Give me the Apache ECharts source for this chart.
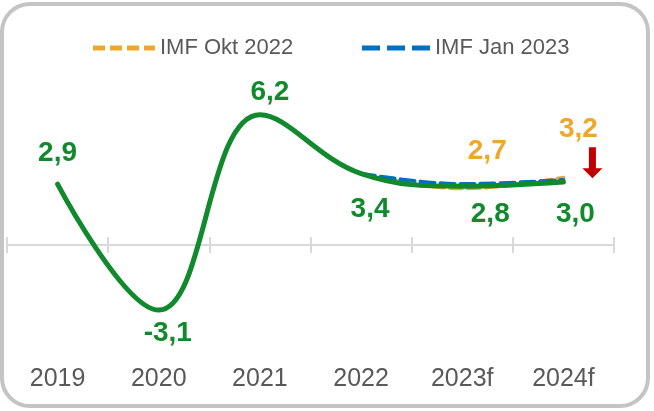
<!DOCTYPE html>
<html>
<head>
    <meta charset="utf-8" />
    <title>IMF growth forecast</title>
    <script src="https://cdn.jsdelivr.net/npm/echarts@6/dist/echarts.min.js"></script>
    <style type="text/css">
        html,
        body {
            width: 100%;
            height: 100%;
            margin: 0;
            background: #ffffff;
        }

        #frame {
            position: absolute;
            left: 0;
            top: 2px;
            width: 650px;
            height: 406px;
            box-sizing: border-box;
            border: 4px solid #c4c4c4;
            border-radius: 30px;
        }

        #main {
            position: absolute;
            left: 0;
            top: 0;
            width: 654px;
            height: 411px;
        }
    </style>
</head>
<body>
    <div id="frame"></div>
    <div id="main"></div>
    <script>
        var categories = ['2019', '2020', '2021', '2022', '2023f', '2024f'];
        var actual = [2.9, -3.1, 6.2, 3.4, 2.8, 3.0];
        var imfOkt2022 = [null, null, null, 3.4, 2.7, 3.2];
        var imfJan2023 = [null, null, null, 3.4, 2.9, 3.1];

        var green = '#108a2c';
        var orange = '#eea72b';
        var blue = '#0070c0';
        var font = "'Liberation Sans', Arial, sans-serif";

        // label placement per point (style only)
        var greenLabelPos = [
            { position: 'top', offset: [0, -12] },
            { position: 'bottom', offset: [9, 4] },
            { position: 'top', offset: [10, -4] },
            { position: 'bottom', offset: [9, 17] },
            { position: 'bottom', offset: [28, 9] },
            { position: 'bottom', offset: [12, 13] }
        ];
        var orangeLabelPos = [null, null, null, null,
            { position: 'top', offset: [25, -18] },
            { position: 'top', offset: [15, -30] }
        ];

        function fmt(v) {
            return v.toFixed(1).replace('.', ',');
        }

        function withLabels(values, pos, color) {
            return values.map(function (v, i) {
                if (v === null) return null;
                var item = { value: v };
                if (pos[i]) {
                    item.label = {
                        show: true,
                        position: pos[i].position,
                        offset: pos[i].offset,
                        color: color,
                        fontFamily: font,
                        fontWeight: 'bold',
                        fontSize: 28,
                        formatter: function (p) { return fmt(p.value); }
                    };
                }
                return item;
            });
        }

        var orangeIcon = 'path://M0,0 h12 v5 h-12z M17,0 h12 v5 h-12z M34,0 h12 v5 h-12z M51,0 h11 v5 h-11z';
        var blueIcon = 'path://M0,0 h18 v5 h-18z M25,0 h18 v5 h-18z M50,0 h18 v5 h-18z';

        var chart = echarts.init(document.getElementById('main'), null, { renderer: 'canvas' });

        var legendText = { fontFamily: font, fontSize: 22, color: '#595959' };

        var option = {
            animation: false,
            backgroundColor: 'transparent',
            grid: [
                { left: 7, right: 40, top: 77, bottom: 61, outerBoundsMode: 'none' },
                { left: 7, right: 40, top: 77, bottom: 61, outerBoundsMode: 'none' }
            ],
            legend: [{
                left: 88,
                top: 32,
                itemWidth: 62,
                itemHeight: 5,
                data: [{ name: 'IMF Okt 2022', icon: orangeIcon }],
                textStyle: legendText
            }, {
                left: 357,
                top: 32,
                itemWidth: 68,
                itemHeight: 5,
                data: [{ name: 'IMF Jan 2023', icon: blueIcon }],
                textStyle: legendText
            }],
            xAxis: [{
                type: 'category',
                gridIndex: 0,
                data: categories,
                boundaryGap: true,
                axisLine: { onZero: true, lineStyle: { color: '#d9d9d9', width: 2 } },
                axisTick: { show: true, length: 8, lineStyle: { color: '#d9d9d9', width: 2 } },
                axisLabel: { show: false }
            }, {
                type: 'category',
                gridIndex: 1,
                data: categories,
                boundaryGap: true,
                axisLine: { onZero: true, lineStyle: { color: '#d9d9d9', width: 2 } },
                axisTick: { show: true, inside: true, length: 8, lineStyle: { color: '#d9d9d9', width: 2 } },
                axisLabel: { show: false }
            }, {
                type: 'category',
                gridIndex: 0,
                position: 'bottom',
                data: categories,
                boundaryGap: true,
                axisLine: { show: false, onZero: false },
                axisTick: { show: false },
                axisLabel: { margin: 17, fontFamily: font, fontSize: 25, color: '#595959' }
            }],
            yAxis: [{
                type: 'value',
                gridIndex: 0,
                min: -5,
                max: 8,
                show: false
            }, {
                type: 'value',
                gridIndex: 1,
                min: -5,
                max: 8,
                show: false
            }],
            series: [{
                name: 'IMF Okt 2022',
                type: 'line',
                smooth: 0.4,
                symbol: 'circle',
                symbolSize: 0,
                data: withLabels(imfOkt2022, orangeLabelPos, orange),
                itemStyle: { color: orange },
                lineStyle: { color: orange, width: 4, type: [12, 6], cap: 'round' },
                z: 2
            }, {
                name: 'IMF Jan 2023',
                type: 'line',
                smooth: 0.4,
                symbol: 'circle',
                symbolSize: 0,
                data: imfJan2023,
                itemStyle: { color: blue },
                lineStyle: { color: blue, width: 4, type: [14, 6], cap: 'round' },
                z: 3
            }, {
                name: 'Aktual',
                type: 'line',
                smooth: 0.4,
                symbol: 'circle',
                symbolSize: 0,
                data: withLabels(actual, greenLabelPos, green),
                itemStyle: { color: green },
                lineStyle: { color: green, width: 5, cap: 'round' },
                z: 4,
                markPoint: {
                    symbol: 'path://M6.5,0 L13.5,0 L13.5,21 L20,21 L10,31 L0,21 L6.5,21 Z',
                    symbolSize: [20, 31],
                    symbolOffset: [29, -15],
                    itemStyle: { color: '#c00000' },
                    label: { show: false },
                    data: [{ coord: ['2024f', 3.2] }]
                }
            }]
        };
        chart.setOption(option);
    </script>
</body>
</html>
